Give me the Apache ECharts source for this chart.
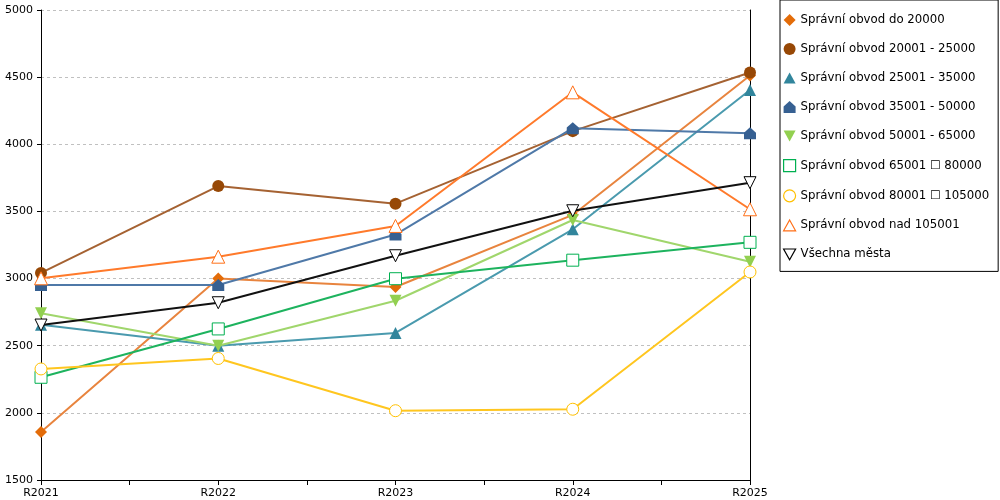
<!DOCTYPE html>
<html lang="cs">
<head>
	<meta charset="UTF-8">
	<title>Správní obvody</title>
	<style>
		html, body { margin: 0; padding: 0; background: #fff; }
	</style>
</head>
<body>
<div id="chart" style="width:1000px;height:500px;"></div>
<script src="https://cdn.jsdelivr.net/npm/echarts@6/dist/echarts.min.js"></script>
<script>
	var years = ['R2021', 'R2022', 'R2023', 'R2024', 'R2025'];

	var names = [
		'Správní obvod do 20000',
		'Správní obvod 20001 - 25000',
		'Správní obvod 25001 - 35000',
		'Správní obvod 35001 - 50000',
		'Správní obvod 50001 - 65000',
		'Správní obvod 65001 \u2610 80000',
		'Správní obvod 80001 \u2610 105000',
		'Správní obvod nad 105001',
		'Všechna města'
	];

	var do20000 = [1857, 3000, 2937, 3474, 4512];
	var o20001 = [3042, 3689, 3558, 4098, 4535];
	var o25001 = [2656, 2500, 2595, 3367, 4404];
	var o35001 = [2952, 2952, 3328, 4120, 4082];
	var o50001 = [2741, 2500, 2835, 3436, 3125];
	var o65001 = [2265, 2625, 2999, 3137, 3270];
	var o80001 = [2327, 2405, 2016, 2027, 3049];
	var nad105001 = [3002, 3163, 3392, 4387, 3516];
	var vsechna = [2654, 2820, 3170, 3505, 3714];

	var values = [do20000, o20001, o25001, o35001, o50001, o65001, o80001, nad105001, vsechna];

	var colors = ['#E36C09', '#974806', '#31859C', '#366092', '#92D050', '#00B050', '#FFC000', '#FF6F17', '#000000'];
	var lineColors = ['#E8843E', '#A56232', '#4A9AAE', '#4F79A8', '#A0D66C', '#1DB35E', '#FFC61F', '#FF7A2B', '#111111'];

	var house = 'path://M5,0 L10,4.5 L10,10 L0,10 L0,4.5 Z';
	var down = 'path://M0,0 L10,0 L5,9 Z';
	var up = 'path://M5,0 L10,9 L0,9 Z';
	var symbols = ['diamond', 'circle', up, house, down, 'rect', 'circle', up, down];
	var sizes = [12, 12, 12, 12, 12, 12, 12, 13, 12];
	var hollow = [false, false, false, false, false, true, true, true, true];

	var myChart = echarts.init(document.getElementById('chart'));

	var series = [];
	var legendData = [];
	for (var i = 0; i < names.length; i++) {
		var pts = [];
		for (var j = 0; j < years.length; j++) {
			pts.push([j, values[i][j]]);
		}
		var itemStyle = hollow[i]
			? { color: '#fff', borderColor: colors[i], borderWidth: 1 }
			: { color: colors[i] };
		series.push({
			name: names[i],
			type: 'line',
			data: pts,
			symbol: symbols[i],
			symbolSize: sizes[i],
			showAllSymbol: true,
			lineStyle: { color: lineColors[i], width: 2 },
			itemStyle: itemStyle,
			emphasis: { disabled: true },
			z: 2 + i
		});
		legendData.push({
			name: names[i],
			icon: symbols[i],
			itemStyle: hollow[i]
				? { color: '#fff', borderColor: colors[i], borderWidth: 1.2 }
				: { color: colors[i], borderWidth: 0 }
		});
	}

	var option = {
		animation: false,
		textStyle: { fontFamily: 'DejaVu Sans', color: '#000' },
		grid: { left: 41, right: 250, top: 10, bottom: 20 },
		legend: {
			orient: 'vertical',
			left: 780,
			top: 0,
			padding: [14, 9, 11, 3],
			itemWidth: 12,
			itemHeight: 12,
			itemGap: 17,
			borderColor: '#000',
			borderWidth: 1,
			textStyle: { fontSize: 11.75, color: '#000', fontFamily: 'DejaVu Sans' },
			data: legendData
		},
		xAxis: {
			type: 'value',
			min: 0,
			max: 4,
			interval: 0.5,
			axisLine: { lineStyle: { color: '#000' } },
			axisTick: { show: true, length: 5, lineStyle: { color: '#000' } },
			splitLine: { show: false },
			axisLabel: {
				color: '#000',
				fontSize: 11,
				margin: 8,
				formatter: function (v) {
					return Number.isInteger(v) ? years[v] : '';
				}
			}
		},
		yAxis: [{
			type: 'value',
			min: 1500,
			max: 5000,
			interval: 500,
			axisLine: { show: true, lineStyle: { color: '#000' } },
			axisTick: { show: true, length: 4, lineStyle: { color: '#000' } },
			axisLabel: {
				color: '#000',
				fontSize: 11,
				margin: 8,
				formatter: function (v) { return String(v); }
			},
			splitLine: { lineStyle: { color: '#c0c0c0', type: [3, 3] } }
		}, {
			type: 'value',
			position: 'right',
			min: 1500,
			max: 5000,
			interval: 500,
			axisLine: { show: true, lineStyle: { color: '#000' } },
			axisTick: { show: false },
			axisLabel: { show: false },
			splitLine: { show: false }
		}],
		series: series
	};

	myChart.setOption(option);
</script>
</body>
</html>
